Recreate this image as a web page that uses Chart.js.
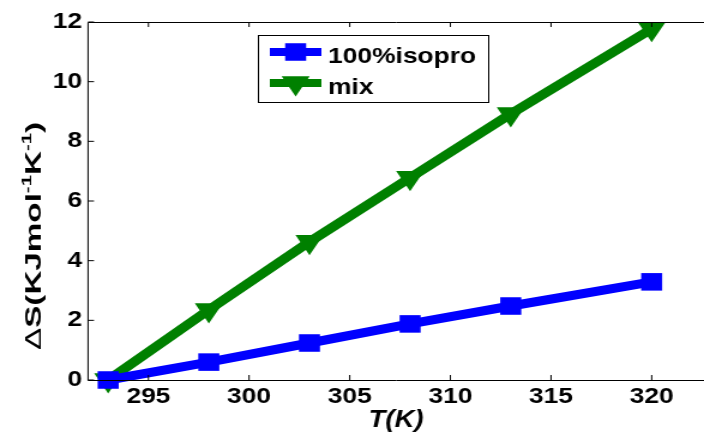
<!DOCTYPE html>
<html><head><meta charset="utf-8">
<script src="https://cdn.jsdelivr.net/npm/chart.js@4/dist/chart.umd.min.js"></script>
<style>html,body{margin:0;padding:0;background:#fff;overflow:hidden}
#c{display:block}</style>
</head><body>
<canvas id="c" width="587" height="434" style="width:704px;height:434px"></canvas>
<script>
// ---- data ----
const temperatures = [293, 298, 303, 308, 313, 320];
const isoproValues = [0, 0.6, 1.24, 1.88, 2.48, 3.29];
const mixValues = [0, 2.35, 4.63, 6.78, 8.92, 11.77];
const seriesLabels = ['100%isopro', 'mix'];
const xTickValues = [295, 300, 305, 310, 315, 320];
const yTickValues = [0, 2, 4, 6, 8, 10, 12];
const xAxisTitle = 'T(K)';
const yAxisTitleParts = [
  {text: 'Δ', bold: false, sup: false},
  {text: 'S(KJmol', bold: true, sup: false},
  {text: '-1', bold: true, sup: true},
  {text: 'K', bold: true, sup: false},
  {text: '-1', bold: true, sup: true},
  {text: ')', bold: true, sup: false}
];

const FAM = '"Liberation Sans", Arial, sans-serif';
const BLUE = '#0000ff', GREEN = '#008000';

function makeDataset(label, values, color, style, radius, rotation) {
  return {
    label,
    data: temperatures.map((t, i) => ({x: t, y: values[i]})),
    borderColor: color, backgroundColor: color, borderWidth: 9,
    pointStyle: style, pointRadius: radius, pointHoverRadius: radius,
    pointRotation: rotation, pointBorderWidth: 0, pointBackgroundColor: color,
    tension: 0, clip: false
  };
}

function drawMarker(ctx, style, radius, rotation, x, y) {
  if (Chart.helpers && Chart.helpers.drawPoint) {
    Chart.helpers.drawPoint(ctx, {pointStyle: style, radius, rotation, borderWidth: 0}, x, y);
    return;
  }
  ctx.beginPath();
  if (style === 'rect') {
    const s = radius * Math.SQRT1_2;
    ctx.rect(x - s, y - s, 2 * s, 2 * s);
  } else {
    const r = radius;
    ctx.moveTo(x, y + r);
    ctx.lineTo(x - r * Math.sqrt(3) / 2, y - r / 2);
    ctx.lineTo(x + r * Math.sqrt(3) / 2, y - r / 2);
    ctx.closePath();
  }
  ctx.fill();
}

const frame = {
  id: 'frame',
  afterDatasetsDraw(chart) {
    const {ctx, chartArea: a, scales} = chart;
    ctx.save();
    ctx.strokeStyle = '#000';
    ctx.lineWidth = 1;
    ctx.beginPath();
    ctx.moveTo(a.right + 2, a.top + 0.5); ctx.lineTo(a.left, a.top + 0.5);
    ctx.lineTo(a.left, a.bottom + 0.5); ctx.lineTo(a.right + 2, a.bottom + 0.5);
    scales.x.ticks.forEach(t => {
      const px = scales.x.getPixelForValue(t.value);
      ctx.moveTo(px, a.bottom); ctx.lineTo(px, a.bottom - 5);
      ctx.moveTo(px, a.top); ctx.lineTo(px, a.top + 5);
    });
    scales.y.ticks.forEach(t => {
      const py = scales.y.getPixelForValue(t.value);
      ctx.moveTo(a.left, py); ctx.lineTo(a.left + 5, py);
    });
    ctx.stroke();
    ctx.restore();
  }
};

const boxLegend = {
  id: 'boxLegend',
  afterDraw(chart) {
    const ctx = chart.ctx;
    const bx = 215, by = 35, bw = 192, bh = 67;
    ctx.save();
    ctx.fillStyle = '#fff';
    ctx.fillRect(bx, by, bw, bh);
    ctx.strokeStyle = '#000'; ctx.lineWidth = 1;
    ctx.strokeRect(bx + 0.5, by + 0.5, bw, bh);
    const rows = [52, 83];
    chart.data.datasets.forEach((ds, i) => {
      const y = rows[i];
      ctx.strokeStyle = ds.borderColor; ctx.lineWidth = 8;
      ctx.beginPath(); ctx.moveTo(225, y); ctx.lineTo(268, y); ctx.stroke();
      ctx.fillStyle = ds.borderColor;
      drawMarker(ctx, ds.pointStyle, ds.pointRadius, ds.pointRotation, 246.5, y);
      ctx.fillStyle = '#000';
      ctx.font = 'bold 22px ' + FAM;
      ctx.textBaseline = 'alphabetic'; ctx.textAlign = 'left';
      ctx.fillText(ds.label, 273.5, y + 10.5);
    });
    ctx.restore();
  }
};

const yTitle = {
  id: 'yTitle',
  afterDraw(chart) {
    const ctx = chart.ctx;
    ctx.save();
    ctx.translate(33.5, 350);
    ctx.rotate(-Math.PI / 2);
    ctx.fillStyle = '#000';
    ctx.textBaseline = 'alphabetic'; ctx.textAlign = 'left';
    const fonts = yAxisTitleParts.map(p => (p.bold ? 'bold ' : '') + (p.sup ? 11 : 18) + 'px ' + FAM);
    const widths = yAxisTitleParts.map((p, i) => { ctx.font = fonts[i]; return ctx.measureText(p.text).width; });
    const total = widths.reduce((s, w) => s + w, 0);
    ctx.scale(228 / total, 1);
    let x = 0;
    yAxisTitleParts.forEach((p, i) => {
      ctx.font = fonts[i];
      ctx.fillText(p.text, x, p.sup ? -7.5 : 0);
      x += widths[i];
    });
    ctx.restore();
  }
};

new Chart(document.getElementById('c'), {
  type: 'line',
  data: {
    datasets: [
      makeDataset(seriesLabels[0], isoproValues, BLUE, 'rect', 12.4, 0),
      makeDataset(seriesLabels[1], mixValues, GREEN, 'triangle', 13.5, 180)
    ]
  },
  options: {
    responsive: false,
    animation: false,
    devicePixelRatio: 1,
    layout: {autoPadding: false, padding: {top: 22, right: 0, left: 0, bottom: 0}},
    plugins: {legend: {display: false}, tooltip: {enabled: false}},
    scales: {
      x: {
        type: 'linear', min: 292, max: 322.6,
        afterBuildTicks: s => { s.ticks = xTickValues.map(v => ({value: v})); },
        afterFit: s => { s.height = 54; s.paddingLeft = 0; s.paddingRight = 0; },
        grid: {display: false, drawTicks: false},
        border: {display: false},
        ticks: {color: '#000', padding: 4, font: {family: FAM, size: 22, weight: 'bold'}, maxRotation: 0},
        title: {display: true, text: xAxisTitle, color: '#000', padding: {top: 0, bottom: 0},
                font: {family: FAM, size: 23, weight: 'bold', style: 'italic'}}
      },
      y: {
        type: 'linear', min: 0, max: 12,
        afterBuildTicks: s => { s.ticks = yTickValues.map(v => ({value: v})); },
        afterFit: s => { s.width = 73.4; s.paddingTop = 0; s.paddingBottom = 0; },
        grid: {display: false, drawTicks: false},
        border: {display: false},
        ticks: {color: '#000', padding: 5, font: {family: FAM, size: 22, weight: 'bold'}}
      }
    }
  },
  plugins: [frame, boxLegend, yTitle]
});
</script>
</body></html>
